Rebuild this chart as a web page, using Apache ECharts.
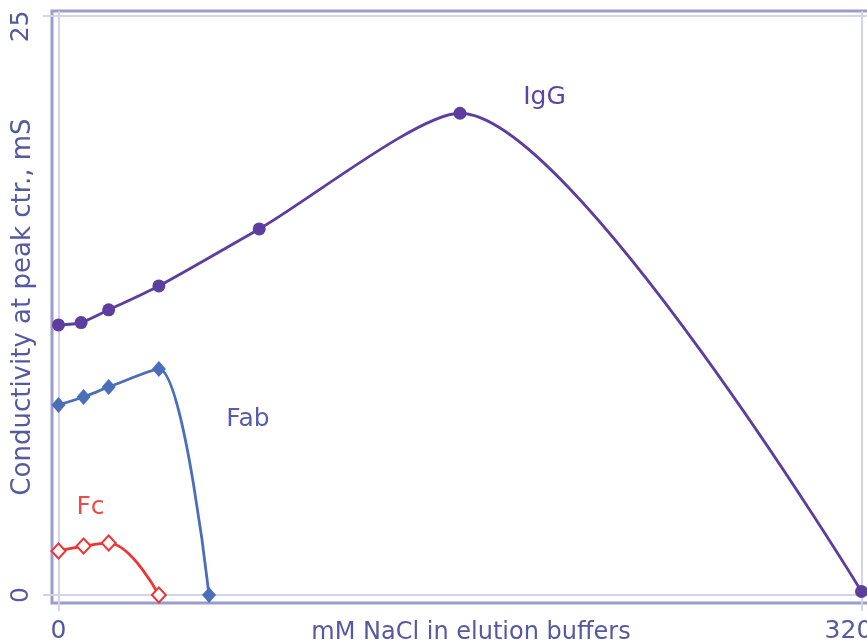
<!DOCTYPE html>
<html><head><meta charset="utf-8">
<script src="https://cdn.jsdelivr.net/npm/echarts@6/dist/echarts.min.js"></script>
<style>html,body{margin:0;padding:0;background:#fff}#c{width:867px;height:644px}</style>
</head><body><div id="c"></div>
<script>
// ---- data ----
const igX = [0, 9, 20, 40, 80, 160, 320];
const igY = [11.65, 11.75, 12.3, 13.33, 15.79, 20.78, 0.15];
const fabX = [0, 10, 20, 40, 60];
const fabY = [8.2, 8.54, 8.97, 9.75, 0];
const fcX = [0, 10, 20, 40];
const fcY = [1.9, 2.11, 2.24, 0];
const xTicks = [0, 320];
const yTicks = [0, 25];
const xName = 'mM NaCl in elution buffers';
const yName = 'Conductivity at peak ctr., mS';
const seriesNames = ['IgG', 'Fab', 'Fc'];

// ---- style ----
const FONT = 'DejaVu Sans';
const AXIS_TXT = '#55599f';
const C_IGG = '#5b3e9e', C_FAB = '#4a6fb8', C_FC = '#ee3434';
const LIGHT = '#d3d4ec';

const zip = (xs, ys) => xs.map((x, i) => [x, ys[i]]);
const annot = (name, coord, color) => ({
  symbol: 'circle', symbolSize: 1, silent: true,
  itemStyle: { color: 'rgba(0,0,0,0)' },
  label: { show: true, position: 'inside', formatter: '{b}', color: color, fontSize: 25, fontFamily: FONT },
  data: [{ name: name, coord: coord }]
});

const chart = echarts.init(document.getElementById('c'), null, { renderer: 'canvas' });
chart.setOption({
  animation: false,
  backgroundColor: '#fff',
  grid: { left: 52, right: -3, top: 11, bottom: 41, show: true, borderColor: '#9b9cce', borderWidth: 3,
          backgroundColor: 'transparent', containLabel: false, outerBoundsMode: 'none' },
  xAxis: {
    type: 'value', min: -2.59, max: 323.4,
    name: xName, nameLocation: 'middle', nameGap: 18, nameMoveOverlap: false,
    nameTextStyle: { fontSize: 24, color: AXIS_TXT, fontFamily: FONT, padding: [0, 0, 0, 20] },
    axisLine: { show: false, onZero: false },
    splitLine: { show: false },
    axisTick: { show: true, customValues: xTicks, length: 8, lineStyle: { color: LIGHT, width: 2 } },
    axisLabel: {
      customValues: xTicks, fontSize: 25, color: AXIS_TXT, fontFamily: FONT, margin: 16,
      formatter: v => v === 320 ? '{r|320}' : String(v),
      rich: { r: { fontSize: 25, color: AXIS_TXT, fontFamily: FONT, padding: [0, 26, 0, 0] } }
    }
  },
  yAxis: {
    type: 'value', min: -0.345, max: 25.19,
    name: yName, nameLocation: 'middle', nameRotate: 90, nameGap: 16, nameMoveOverlap: false,
    nameTextStyle: { fontSize: 26, color: AXIS_TXT, fontFamily: FONT },
    axisLine: { show: false, onZero: false },
    splitLine: { show: false },
    axisTick: { show: true, customValues: yTicks, length: 9, lineStyle: { color: LIGHT, width: 2 } },
    axisLabel: {
      customValues: yTicks, rotate: 90, fontSize: 25, color: AXIS_TXT, fontFamily: FONT, margin: 18,
      formatter: v => v === 25 ? '{r|25}' : String(v),
      rich: { r: { fontSize: 25, color: AXIS_TXT, fontFamily: FONT, padding: [0, 22, 0, 0] } }
    }
  },
  series: [
    {
      type: 'line', data: [], z: 1, silent: true,
      markLine: {
        silent: true, symbol: 'none', z: 1, label: { show: false },
        lineStyle: { color: LIGHT, width: 2, type: 'solid' },
        data: [{ xAxis: xTicks[0] }, { xAxis: xTicks[1] }, { yAxis: yTicks[0] }, { yAxis: yTicks[1] }]
      }
    },
    {
      name: seriesNames[0], type: 'line', z: 3, data: zip(igX, igY), smooth: 0.25,
      symbol: 'circle', symbolSize: 13,
      lineStyle: { color: C_IGG, width: 2.8 }, itemStyle: { color: C_IGG },
      markPoint: annot('IgG', [193.7, 21.45], '#5a45a6')
    },
    {
      name: seriesNames[1], type: 'line', z: 3, data: zip(fabX, fabY), smooth: 0.3,
      symbol: 'diamond', symbolSize: [14, 16],
      lineStyle: { color: C_FAB, width: 2.8 }, itemStyle: { color: C_FAB },
      markPoint: annot('Fab', [75.5, 7.57], '#5a5ca8')
    },
    {
      name: seriesNames[2], type: 'line', z: 3, data: zip(fcX, fcY), smooth: 0.4,
      symbol: 'emptyDiamond', symbolSize: [14, 15],
      lineStyle: { color: C_FC, width: 2.8 }, itemStyle: { color: C_FC, borderWidth: 2.8 },
      markPoint: annot('Fc', [12.75, 3.77], '#f04848')
    }
  ]
});
</script></body></html>
